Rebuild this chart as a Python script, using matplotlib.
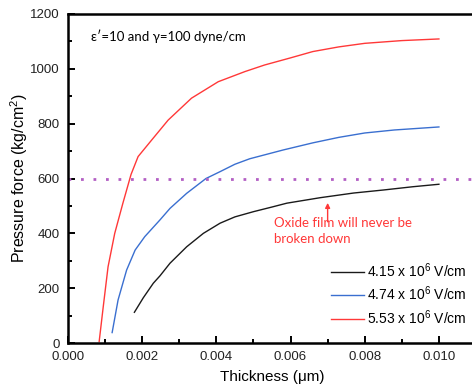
import matplotlib
matplotlib.use("Agg")
import matplotlib.pyplot as plt
from matplotlib.ticker import MultipleLocator


# thickness (um) / pressure force (kg/cm^2)
black_x = [0.00179, 0.00203, 0.0023, 0.00248, 0.00275, 0.0032, 0.00365, 0.0041,
           0.0045, 0.005, 0.0055, 0.0059, 0.0068, 0.0077, 0.0085, 0.0093, 0.0100]
black_y = [112, 165, 218, 245, 291, 351, 400, 437,
           460, 479, 496, 510, 530, 547, 558, 570, 579]

blue_x = [0.00119, 0.00135, 0.00158, 0.00181, 0.00207, 0.00248, 0.00275, 0.0032,
          0.00372, 0.0041, 0.0045, 0.0049, 0.0058, 0.0066, 0.0073, 0.008, 0.0088, 0.0100]
blue_y = [38, 157, 266, 339, 388, 449, 491, 546,
          600, 625, 652, 672, 704, 730, 750, 766, 777, 788]

red_x = [0.00084, 0.00095, 0.00108, 0.00126, 0.00148, 0.00170, 0.00189, 0.00226,
         0.0027, 0.00333, 0.00405, 0.00477, 0.0053, 0.0060, 0.0066, 0.0073,
         0.0080, 0.0090, 0.0100]
red_y = [5, 132, 278, 400, 510, 615, 680, 741,
         813, 893, 953, 990, 1014, 1040, 1063, 1080,
         1093, 1103, 1109]

labels = ["4.15 x 10$^6$ V/cm", "4.74 x 10$^6$ V/cm", "5.53 x 10$^6$ V/cm"]
colors = ["#1a1a1a", "#3a6fd0", "#ff3838"]
limit_y = 600

plt.rcParams["font.family"] = ["Liberation Sans", "DejaVu Sans"]
plt.rcParams["mathtext.fontset"] = "custom"
plt.rcParams["mathtext.rm"] = "Liberation Sans"

fig = plt.figure(figsize=(4.72, 3.88), dpi=100)
W, H = 472, 388
ax = fig.add_axes([68 / W, (H - 343) / H, (476 - 68) / W, (343 - 14) / H])

for xs, ys, lab, col in zip([black_x, blue_x, red_x], [black_y, blue_y, red_y], labels, colors):
    ax.plot(xs, ys, color=col, linewidth=1.0, label=lab)

ax.axhline(limit_y, color="#b35fc4", linewidth=2, linestyle=(0, (1, 3.5)))

ax.set_xlim(0, 0.011)
ax.set_ylim(0, 1200)
ax.xaxis.set_major_locator(MultipleLocator(0.002))
ax.xaxis.set_minor_locator(MultipleLocator(0.001))
ax.yaxis.set_major_locator(MultipleLocator(200))
ax.yaxis.set_minor_locator(MultipleLocator(100))
ax.xaxis.set_major_formatter(plt.FuncFormatter(lambda v, p: f"{v:.3f}"))
ax.tick_params(which="both", direction="in", width=1.4, labelsize=9.5, labelcolor="#222222")
ax.tick_params(which="major", length=5, pad=6)
ax.tick_params(which="minor", length=3)
ax.spines["right"].set_visible(False)
for side in ["left", "bottom", "top"]:
    ax.spines[side].set_linewidth(1.8)

ax.set_xlabel("Thickness (\u03bcm)", fontsize=11, labelpad=5)
ax.set_ylabel("Pressure force (kg/cm$^2$)", fontsize=11.5, labelpad=0)

ax.text(0.00063, 1120, "\u03b5\u2032=10 and \u03b3=100 dyne/cm", fontsize=9.5,
        family=["Lato", "DejaVu Sans"], va="center")

ax.annotate("", xy=(0.007, 511), xytext=(0.007, 442),
            arrowprops=dict(arrowstyle="-|>", color="#ff3838", lw=1, mutation_scale=7,
                            shrinkA=0, shrinkB=0))
ax.text(0.00556, 410, "Oxide film will never be\nbroken down", color="#ff3838",
        fontsize=9.5, family=["Lato", "DejaVu Sans"], va="center", linespacing=1.4)

ax.legend(loc="lower left", bbox_to_anchor=(0.645, 0.05), frameon=False, fontsize=10,
          borderaxespad=0, borderpad=0, handlelength=2.4, handletextpad=0.15,
          labelspacing=0.35)

fig.savefig("out.png", dpi=100)
